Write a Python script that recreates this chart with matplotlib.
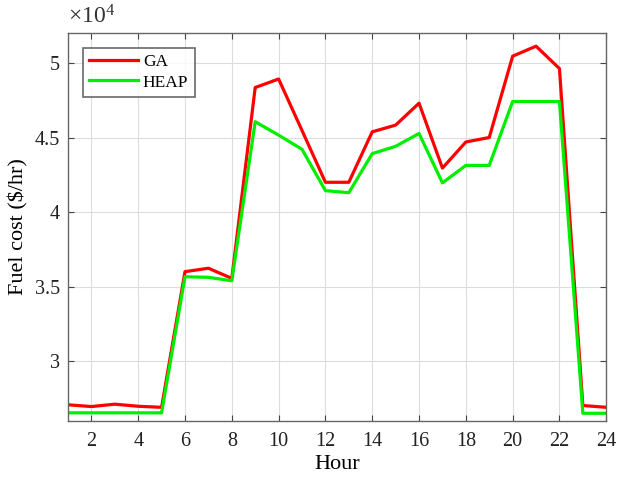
import numpy as np
import matplotlib
matplotlib.use('Agg')
import matplotlib.pyplot as plt
from matplotlib.ticker import FuncFormatter

plt.rcParams['font.family'] = ['Liberation Serif', 'DejaVu Serif']
plt.rcParams['mathtext.fontset'] = 'custom'
plt.rcParams['mathtext.rm'] = 'Liberation Serif'
plt.rcParams['mathtext.it'] = 'Liberation Serif:italic'

hours = list(range(1, 25))
ga = [27090, 26970, 27130, 26990, 26920, 36010, 36240, 35560,
      48350, 48920, 45470, 42000, 42000, 45380, 45830, 47300,
      42950, 44700, 45000, 50450, 51120, 49620, 27040, 26920]
heap = [26550, 26550, 26550, 26550, 26550, 35670, 35630, 35400,
        46060, 45160, 44210, 41440, 41300, 43920, 44410, 45270,
        41960, 43130, 43130, 47410, 47410, 47410, 26520, 26520]

fig = plt.figure(figsize=(6.18, 4.79), dpi=100)
ax = fig.add_axes([0.110, 0.121, 0.871, 0.810])

ax.plot(hours, ga, color='#ff0000', lw=2.3, label='GA')
ax.plot(hours, heap, color='#00ee00', lw=2.3, label='HEAP')

ax.set_xlim(1, 24)
ax.set_ylim(26000, 52000)
ax.set_xticks(range(2, 25, 2))
ax.set_yticks([30000, 35000, 40000, 45000, 50000])
ax.yaxis.set_major_formatter(FuncFormatter(lambda v, p: '%g' % (v / 1e4)))

ax.grid(True, color='#dddddd', lw=0.8)
ax.tick_params(direction='in', top=True, right=True, labelsize=14.5,
               length=4, color='#444444', labelcolor='#222222')
ax.tick_params(axis='x', pad=8)
ax.tick_params(axis='y', pad=6)
for s in ax.spines.values():
    s.set_color('#666666')
    s.set_linewidth(1.0)

ax.set_xlabel('Hour', fontsize=16, labelpad=3)
ax.set_ylabel('Fuel cost (\\$/hr)', fontsize=16, labelpad=4)
ax.text(0.0, 1.012, r'$\times\mathrm{10}^\mathrm{4}$', transform=ax.transAxes,
        fontsize=17, ha='left', va='bottom', color='#333333')

leg = ax.legend(loc='upper left', fontsize=12.5, frameon=True, fancybox=False,
                handlelength=2.8, handletextpad=0.3, borderpad=0.35,
                labelspacing=0.25, bbox_to_anchor=(0.028, 0.962),
                borderaxespad=0)
leg.get_frame().set_edgecolor('#444444')
leg.get_frame().set_linewidth(1.2)

fig.savefig('out.png', dpi=100)
